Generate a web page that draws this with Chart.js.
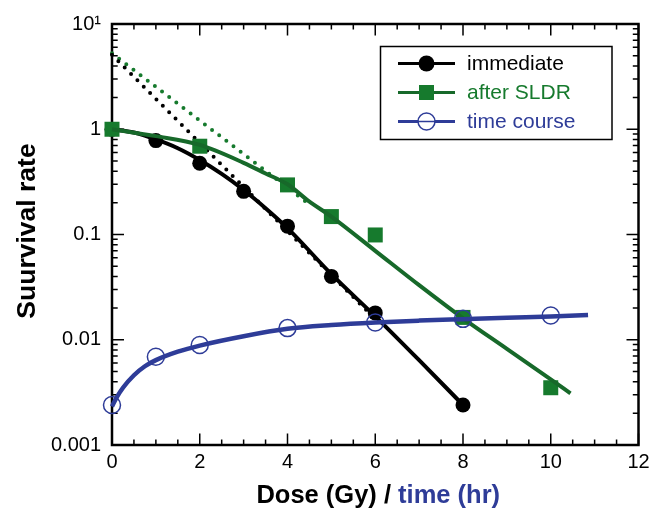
<!DOCTYPE html>
<html><head><meta charset="utf-8">
<script src="https://cdn.jsdelivr.net/npm/chart.js@4.4.0/dist/chart.umd.min.js"></script>
<style>html,body{margin:0;padding:0;background:#fff}#wrap{width:662px;height:513px;position:relative}</style>
</head><body><div id="wrap"><canvas id="c" width="662" height="513"></canvas></div>
<script>
// measured points
const immediateDose = [0, 1, 2, 3, 4, 5, 6, 8];
const immediateSurvival = [1, 0.78, 0.475, 0.257, 0.12, 0.04, 0.018, 0.0024];
const sldrDose = [0, 2, 4, 5, 6, 8, 10];
const sldrSurvival = [1, 0.69, 0.296, 0.148, 0.099, 0.0163, 0.0035];
const timeHours = [0, 1, 2, 4, 6, 8, 10];
const timeCourseSurvival = [0.0024, 0.0069, 0.0089, 0.0129, 0.0146, 0.0158, 0.017];
// fitted curves
const immediateFitX = [0, 0.5, 1, 1.5, 2, 2.5, 3, 3.5, 4, 5, 6, 7, 8];
const immediateFitY = [1, 0.93, 0.80, 0.66, 0.51, 0.376, 0.265, 0.178, 0.115, 0.042, 0.0167, 0.0064, 0.0024];
const immediateAsymX = [0, 6];
const immediateAsymY = [5.1, 0.0157];
const sldrFitX = [0, 1, 2, 3, 3.5, 4, 4.5, 5, 6, 7, 8, 9, 10, 10.45];
const sldrFitY = [1, 0.86, 0.71, 0.48, 0.38, 0.30, 0.205, 0.148, 0.070, 0.033, 0.016, 0.0082, 0.0042, 0.0031];
const sldrAsymX = [0, 4.5];
const sldrAsymY = [5.27, 0.193];
const timeFitX = [0, 0.1, 0.25, 0.5, 0.75, 1, 1.5, 2, 3, 4, 5, 6, 7, 8, 9, 10, 10.85];
const timeFitY = [0.00232, 0.0028, 0.0035, 0.0046, 0.0056, 0.0064, 0.0077, 0.0088, 0.0108, 0.0127, 0.0138, 0.0146, 0.0152, 0.0157, 0.0162, 0.0166, 0.0172];
// axes
const xTicks = [0, 2, 4, 6, 8, 10, 12];
const yTicks = [0.001, 0.01, 0.1, 1, 10];
const yTickLabels = ['0.001', '0.01', '0.1', '1', '10\u00B9'];
const seriesLabels = ['immediate', 'after SLDR', 'time course'];

const BLACK = '#000000', GREEN = '#167a2d', GREEN_LINE = '#17692a', BLUE = '#2e3c98';
const FONT = '"Liberation Sans", Arial, Helvetica, sans-serif';

const pts = (xs, ys) => xs.map((x, i) => ({x: x, y: ys[i]}));

const frame = {
  id: 'frame',
  beforeDatasetsDraw(chart) {
    const {ctx, chartArea: a, scales: {x, y}} = chart;
    ctx.save();
    ctx.strokeStyle = '#000';
    ctx.lineWidth = 1.5;
    ctx.beginPath();
    for (let v = 0; v <= 12.001; v += 0.5) {
      const px = x.getPixelForValue(v);
      const len = (Math.abs(v % 2) < 1e-6) ? 11.5 : 5.5;
      ctx.moveTo(px, a.bottom); ctx.lineTo(px, a.bottom - len);
      ctx.moveTo(px, a.top); ctx.lineTo(px, a.top + len);
    }
    for (let d = -3; d <= 1; d++) {
      for (let k = 1; k <= 9; k++) {
        if (d === 1 && k > 1) break;
        const py = y.getPixelForValue(k * Math.pow(10, d));
        const len = k === 1 ? 12 : 5.7;
        ctx.moveTo(a.left, py); ctx.lineTo(a.left + len, py);
        ctx.moveTo(a.right, py); ctx.lineTo(a.right - len, py);
      }
    }
    ctx.stroke();
    ctx.lineWidth = 2.5;
    ctx.strokeRect(a.left, a.top, a.right - a.left, a.bottom - a.top);
    ctx.restore();
  },
  afterDraw(chart) {
    const {ctx, chartArea: a} = chart;
    ctx.save();
    // axis titles
    ctx.font = 'bold 25.5px ' + FONT;
    ctx.textBaseline = 'alphabetic';
    const t1 = 'Dose (Gy) / ', t2 = 'time (hr)';
    const w1 = ctx.measureText(t1).width, w2 = ctx.measureText(t2).width;
    const cx = (a.left + a.right) / 2 + 3;
    let sx = cx - (w1 + w2) / 2;
    ctx.textAlign = 'left';
    ctx.fillStyle = BLACK; ctx.fillText(t1, sx, 503);
    ctx.fillStyle = BLUE; ctx.fillText(t2, sx + w1, 503);
    ctx.save();
    ctx.translate(35, 231);
    ctx.rotate(-Math.PI / 2);
    ctx.textAlign = 'center';
    ctx.fillStyle = BLACK;
    ctx.font = 'bold 26.5px ' + FONT;
    ctx.fillText('Suurvival rate', 0, 0);
    ctx.restore();
    // legend
    const L = {x: 380.5, y: 46.5, w: 231.5, h: 93};
    ctx.fillStyle = '#fff';
    ctx.fillRect(L.x, L.y, L.w, L.h);
    ctx.strokeStyle = '#000'; ctx.lineWidth = 1.5;
    ctx.strokeRect(L.x, L.y, L.w, L.h);
    const rows = [
      {y: 63.5, line: BLACK, text: BLACK, mk: 'dot'},
      {y: 92.5, line: GREEN_LINE, text: GREEN, mk: 'sq'},
      {y: 121.5, line: BLUE, text: BLUE, mk: 'ring'}
    ];
    rows.forEach((r, i) => {
      ctx.strokeStyle = r.line; ctx.lineWidth = 3.2;
      ctx.beginPath(); ctx.moveTo(398, r.y); ctx.lineTo(455, r.y); ctx.stroke();
      const mx = 426.5;
      if (r.mk === 'dot') {
        ctx.fillStyle = BLACK; ctx.beginPath(); ctx.arc(mx, r.y, 8, 0, Math.PI * 2); ctx.fill();
      } else if (r.mk === 'sq') {
        ctx.fillStyle = GREEN; ctx.fillRect(mx - 7.5, r.y - 7.5, 15, 15);
      } else {
        ctx.fillStyle = '#fff'; ctx.strokeStyle = BLUE; ctx.lineWidth = 1.5;
        ctx.beginPath(); ctx.arc(mx, r.y, 8.5, 0, Math.PI * 2); ctx.fill(); ctx.stroke();
        ctx.beginPath(); ctx.moveTo(mx - 8.5, r.y); ctx.lineTo(mx + 8.5, r.y); ctx.lineWidth = 1.5; ctx.stroke();
      }
      ctx.fillStyle = r.text;
      ctx.font = '21px ' + FONT;
      ctx.textAlign = 'left'; ctx.textBaseline = 'middle';
      ctx.fillText(seriesLabels[i], 467, r.y + 1);
    });
    ctx.restore();
  }
};

const lineDs = (data, color, width, order, dash) => ({
  data: data, borderColor: color, borderWidth: width, pointRadius: 0, showLine: true,
  fill: false, cubicInterpolationMode: 'monotone', order: order, clip: false,
  borderDash: dash || [], borderCapStyle: dash ? 'round' : 'butt'
});

new Chart(document.getElementById('c'), {
  type: 'scatter',
  data: {
    datasets: [
      Object.assign(lineDs(pts(immediateAsymX, immediateAsymY), BLACK, 4, 9, [0, 9]), {cubicInterpolationMode: 'default', tension: 0}),
      Object.assign(lineDs(pts(sldrAsymX, sldrAsymY), GREEN, 4, 9, [0, 9]), {cubicInterpolationMode: 'default', tension: 0}),
      {label: seriesLabels[0], data: pts(immediateDose, immediateSurvival), showLine: false, pointStyle: 'circle',
        pointRadius: 7.5, pointBackgroundColor: BLACK, pointBorderWidth: 0, order: 7, clip: false},
      lineDs(pts(immediateFitX, immediateFitY), BLACK, 4, 6),
      {label: seriesLabels[1], data: pts(sldrDose, sldrSurvival), showLine: false, pointStyle: 'rect',
        pointRadius: 10.6, pointBackgroundColor: GREEN, pointBorderWidth: 0, order: 5, clip: false},
      lineDs(pts(sldrFitX, sldrFitY), GREEN_LINE, 4, 4),
      lineDs(pts(timeFitX, timeFitY), BLUE, 4.5, 3),
      {label: seriesLabels[2], data: pts(timeHours, timeCourseSurvival), showLine: false, pointStyle: 'circle',
        pointRadius: 8.5, pointBackgroundColor: 'rgba(255,255,255,0)', pointBorderColor: BLUE, pointBorderWidth: 1.5, order: 1, clip: false}
    ]
  },
  options: {
    responsive: false, animation: false, events: [],
    layout: {padding: {top: 24, right: 23.5, bottom: 0, left: 0}},
    plugins: {legend: {display: false}, tooltip: {enabled: false}},
    scales: {
      x: {
        type: 'linear', min: 0, max: 12,
        afterBuildTicks: s => { s.ticks = xTicks.map(v => ({value: v})); },
        afterFit: s => { s.height = 68; },
        grid: {display: false, drawTicks: false},
        border: {display: false},
        ticks: {color: '#000', font: {family: FONT, size: 20}, padding: 5, maxRotation: 0, autoSkip: false,
          callback: v => String(v)}
      },
      y: {
        type: 'logarithmic', min: 0.001, max: 10,
        afterBuildTicks: s => { s.ticks = yTicks.map(v => ({value: v, major: true})); },
        afterFit: s => { s.width = 112; },
        grid: {display: false, drawTicks: false},
        border: {display: false},
        ticks: {color: '#000', font: {family: FONT, size: 20}, padding: 11, autoSkip: false,
          callback: (v) => { const i = yTicks.findIndex(t => Math.abs(t - v) / t < 1e-6); return i >= 0 ? yTickLabels[i] : ''; }}
      }
    }
  },
  plugins: [frame]
});
</script>
</body></html>
